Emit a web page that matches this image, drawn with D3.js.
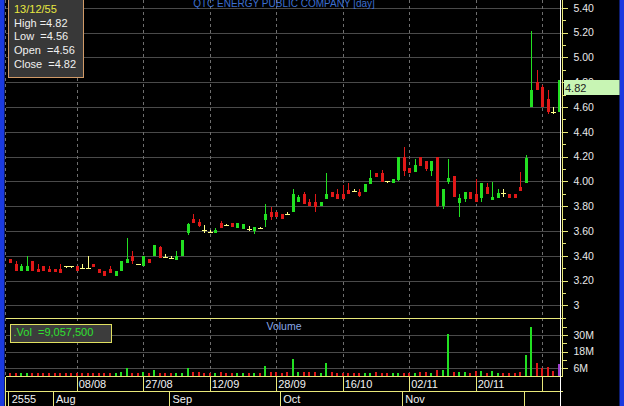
<!DOCTYPE html>
<html><head><meta charset="utf-8">
<script src="https://cdn.jsdelivr.net/npm/d3@7"></script>
<style>
html,body{margin:0;padding:0;background:#000;overflow:hidden}
svg{display:block}
text{font-family:"Liberation Sans",Arial,sans-serif}
</style>
</head><body>
<svg id="c" width="624" height="406"></svg>
<script>
const title = "QTC ENERGY PUBLIC COMPANY [day]";
const dates = ["20/07/55","23/07/55","24/07/55","25/07/55","26/07/55","27/07/55","30/07/55","31/07/55",
"01/08/55","03/08/55","06/08/55","07/08/55","08/08/55","09/08/55","10/08/55","14/08/55","15/08/55","16/08/55","17/08/55","20/08/55","21/08/55","22/08/55","23/08/55","24/08/55","27/08/55","28/08/55","29/08/55","30/08/55","31/08/55",
"03/09/55","04/09/55","05/09/55","06/09/55","07/09/55","10/09/55","11/09/55","12/09/55","13/09/55","14/09/55","17/09/55","18/09/55","19/09/55","20/09/55","21/09/55","24/09/55","25/09/55","26/09/55","27/09/55","28/09/55",
"01/10/55","02/10/55","03/10/55","04/10/55","05/10/55","08/10/55","09/10/55","10/10/55","11/10/55","12/10/55","15/10/55","16/10/55","17/10/55","18/10/55","19/10/55","22/10/55","24/10/55","25/10/55","26/10/55","29/10/55","30/10/55","31/10/55",
"01/11/55","02/11/55","05/11/55","06/11/55","07/11/55","08/11/55","09/11/55","12/11/55","13/11/55","14/11/55","15/11/55","16/11/55","19/11/55","20/11/55","21/11/55","22/11/55","23/11/55","26/11/55","27/11/55","28/11/55","29/11/55","30/11/55",
"03/12/55","04/12/55","06/12/55","07/12/55","11/12/55","12/12/55","13/12/55"];

const open = [3.37,3.33,3.28,3.28,3.36,3.29,3.32,3.29,3.29,3.29,
 3.32,3.32,3.32,3.30,3.30,3.33,3.29,3.28,3.29,3.24,
 3.28,3.34,3.40,3.33,3.32,3.37,3.40,3.47,3.39,3.385,
 3.365,3.40,3.58,3.70,3.67,3.61,3.595,3.58,3.66,3.645,
 3.665,3.62,3.615,3.615,3.60,3.62,3.69,3.755,3.75,3.74,
 3.74,3.755,3.835,3.90,3.835,3.835,3.80,3.86,3.91,3.90,
 3.90,3.93,3.92,3.915,3.915,3.98,4.07,4.064,4.00,3.985,
 4.01,4.20,4.105,4.078,4.20,4.16,4.08,4.20,3.80,3.995,
 4.04,3.822,3.86,3.917,3.90,3.863,3.957,3.85,3.863,3.903,
 3.90,3.90,3.957,3.984,4.60,4.80,4.76,4.66,4.56,4.56];
const high = [3.375,3.36,3.33,3.40,3.36,3.33,3.32,3.32,3.29,3.33,
 3.32,3.32,3.32,3.33,3.40,3.33,3.29,3.28,3.32,3.28,
 3.36,3.54,3.44,3.335,3.40,3.37,3.49,3.48,3.41,3.40,
 3.44,3.53,3.665,3.74,3.70,3.65,3.61,3.62,3.68,3.655,
 3.665,3.66,3.655,3.64,3.635,3.634,3.82,3.79,3.75,3.74,
 3.755,3.94,3.89,3.915,3.855,3.90,3.835,4.07,3.91,3.94,
 3.97,3.99,3.94,3.94,3.98,4.09,4.07,4.09,4.00,4.02,
 4.20,4.28,4.105,4.18,4.20,4.16,4.16,4.20,3.94,4.18,
 4.04,3.90,3.917,3.917,4.02,3.984,3.984,3.997,3.94,3.94,
 3.90,3.90,4.078,4.21,5.21,4.90,4.78,4.74,4.60,4.82];
const low = [3.34,3.28,3.28,3.28,3.28,3.27,3.28,3.27,3.27,3.26,
 3.30,3.30,3.28,3.30,3.30,3.31,3.26,3.24,3.26,3.24,
 3.28,3.34,3.33,3.33,3.32,3.34,3.40,3.38,3.39,3.385,
 3.365,3.40,3.565,3.66,3.635,3.585,3.595,3.58,3.62,3.645,
 3.635,3.62,3.615,3.60,3.575,3.62,3.635,3.69,3.71,3.70,
 3.74,3.755,3.83,3.815,3.80,3.75,3.80,3.86,3.875,3.86,
 3.86,3.90,3.92,3.875,3.915,3.98,4.035,3.997,3.985,3.985,
 4.00,4.046,4.065,4.078,4.12,4.086,4.04,3.79,3.78,3.98,
 3.876,3.715,3.836,3.86,3.836,3.836,3.90,3.85,3.863,3.876,
 3.863,3.863,3.925,3.984,4.60,4.74,4.60,4.54,4.54,4.56];
const close = [3.34,3.28,3.32,3.32,3.28,3.27,3.28,3.27,3.27,3.26,
 3.32,3.32,3.28,3.30,3.30,3.31,3.26,3.24,3.26,3.28,
 3.36,3.37,3.36,3.33,3.40,3.34,3.49,3.38,3.39,3.385,
 3.40,3.53,3.655,3.66,3.64,3.61,3.595,3.61,3.62,3.645,
 3.635,3.66,3.655,3.615,3.635,3.62,3.74,3.715,3.71,3.70,
 3.74,3.90,3.875,3.815,3.80,3.79,3.835,3.90,3.875,3.86,
 3.86,3.90,3.92,3.885,3.98,4.03,4.035,3.997,4.00,4.02,
 4.20,4.08,4.065,4.132,4.12,4.10,4.16,3.80,3.94,4.03,
 3.876,3.863,3.917,3.86,3.836,3.984,3.90,3.876,3.903,3.903,
 3.863,3.863,3.925,4.185,4.74,4.74,4.60,4.56,4.56,4.82];
const volume = [2600000,2600000,2500000,2800000,2600000,2400000,2600000,2300000,2500000,2600000,
 2300000,2500000,2600000,2400000,2700000,2500000,2600000,2400000,2500000,2700000,
 3500000,6200000,2600000,2400000,3600000,2600000,4800000,2700000,2500000,2600000,
 2500000,2700000,6200000,3300000,3000000,2500000,2400000,2600000,3200000,2500000,
 2600000,2400000,2600000,2300000,2500000,2600000,7600000,3500000,3400000,2600000,
 3000000,12700000,3100000,3400000,3000000,3600000,2700000,10000000,3000000,2600000,
 2500000,2600000,2400000,2600000,2500000,2800000,3100000,2700000,2600000,2500000,
 2800000,2600000,2400000,2600000,3000000,3100000,2800000,4500000,4600000,30700000,
 3300000,3200000,3400000,2500000,3800000,3900000,2800000,3800000,2700000,2500000,
 2400000,2400000,3300000,15500000,36000000,10000000,6000000,6800000,4200000,9057500];

const priceTicks = [3,3.2,3.4,3.6,3.8,4.0,4.2,4.4,4.6,4.8,5.0,5.2,5.4];
const priceTickLabels = ["3","3.20","3.40","3.60","3.80","4.00","4.20","4.40","4.60","4.80","5.00","5.20","5.40"];
const priceMinorTicks = [2.9,3.1,3.3,3.5,3.7,3.9,4.1,4.3,4.5,4.7,4.9,5.1,5.3];
const volumeTicks = [6e6,18e6,30e6];
const volumeTickLabels = ["6M","18M","30M"];
const volumeMinorTicks = [12e6,24e6,36e6];
const dateTickIdx = [12,24,36,48,60,72,84,96];
const yearLabel = "2555";
const monthNames = ["Jan","Feb","Mar","Apr","May","Jun","Jul","Aug","Sep","Oct","Nov","Dec"];

const svg = d3.select("#c");
const W = 624, H = 406;
const L = 5.5, R = 562.5, mainBottom = 318, volBottom = 376.5, monthTop = 391.5;
const YELLOW = "#e8e87a", GRID = "#4a4a4a", VGRID = "#6e6e6e";
const GREEN = "#22e022", RED = "#e01818", DOJI = "#ffff88";

const n = dates.length;
const x = d3.scalePoint().domain(d3.range(n)).range([10.2, 558.9]);
const y = d3.scaleLinear().domain([3, 5.4]).range([305.3, 7.7]);
const yv = d3.scaleLinear().domain([0, 30e6]).range([376.6, 334.9]);

svg.append("rect").attr("width", W).attr("height", H).attr("fill", "#000");
// blue side strips
svg.append("rect").attr("x", 0).attr("y", 0).attr("width", 4.5).attr("height", H).attr("fill", "#1a3ae0");
svg.append("rect").attr("x", 619.5).attr("y", 0).attr("width", 4.5).attr("height", H).attr("fill", "#1a3ae0");

const grid = svg.append("g").attr("shape-rendering", "crispEdges");
grid.selectAll(".hp").data(priceTicks).join("line")
  .attr("x1", L).attr("x2", R).attr("y1", d => Math.round(y(d)) + 0.5).attr("y2", d => Math.round(y(d)) + 0.5)
  .attr("stroke", GRID);
grid.selectAll(".hv").data(volumeTicks).join("line")
  .attr("x1", L).attr("x2", R).attr("y1", d => Math.round(yv(d)) + 0.5).attr("y2", d => Math.round(yv(d)) + 0.5)
  .attr("stroke", GRID);
grid.selectAll(".vg").data(dateTickIdx).join("line")
  .attr("x1", d => Math.round(x(d)) + 0.5).attr("x2", d => Math.round(x(d)) + 0.5)
  .attr("y1", 0).attr("y2", volBottom)
  .attr("stroke", VGRID).attr("stroke-dasharray", "3,3");
grid.append("line").attr("x1", L).attr("x2", L).attr("y1", 0).attr("y2", volBottom)
  .attr("stroke", VGRID).attr("stroke-dasharray", "3,3");

// title
svg.append("text").attr("x", 284).attr("y", 6.5).attr("text-anchor", "middle")
  .attr("font-size", 10).attr("fill", "#3d6fd0").text(title);

// candles
const data = d3.range(n).map(i => ({i, o: open[i], h: high[i], l: low[i], c: close[i], v: volume[i]}));
const colorOf = d => d.c > d.o ? GREEN : (d.c < d.o ? RED : DOJI);
const cg = svg.append("g").attr("shape-rendering", "crispEdges");
const cand = cg.selectAll("g").data(data).join("g");
cand.append("line")
  .attr("x1", d => Math.round(x(d.i)) + 0.5).attr("x2", d => Math.round(x(d.i)) + 0.5)
  .attr("y1", d => y(d.h)).attr("y2", d => y(d.l) + (d.h === d.l ? 1 : 0))
  .attr("stroke", colorOf);
cand.filter(d => d.o !== d.c).append("rect")
  .attr("x", d => Math.round(x(d.i)) - 1).attr("width", 3)
  .attr("y", d => y(Math.max(d.o, d.c)))
  .attr("height", d => Math.max(1, Math.abs(y(d.o) - y(d.c))))
  .attr("fill", colorOf);
cand.filter(d => d.o === d.c).append("rect")
  .attr("x", d => Math.round(x(d.i)) - 2).attr("width", 5)
  .attr("y", d => Math.round(y(d.c))).attr("height", 1)
  .attr("fill", DOJI);

// volume bars
const vg = svg.append("g").attr("shape-rendering", "crispEdges");
vg.selectAll("rect").data(data).join("rect")
  .attr("x", d => Math.round(x(d.i)) - 1).attr("width", 2)
  .attr("y", d => yv(d.v)).attr("height", d => yv(0) - yv(d.v))
  .attr("fill", d => d.i === n - 1 ? "#a040d0" : (d.c > d.o ? GREEN : RED));

// frame lines
const fr = svg.append("g").attr("shape-rendering", "crispEdges").attr("stroke", YELLOW);
fr.append("line").attr("x1", L).attr("x2", R).attr("y1", mainBottom + 0.5).attr("y2", mainBottom + 0.5);
fr.append("line").attr("x1", L).attr("x2", R).attr("y1", volBottom).attr("y2", volBottom);
fr.append("line").attr("x1", L).attr("x2", R).attr("y1", monthTop).attr("y2", monthTop);
fr.append("line").attr("x1", R).attr("x2", R).attr("y1", 0).attr("y2", volBottom);
fr.append("line").attr("x1", L).attr("x2", L).attr("y1", volBottom).attr("y2", H);

// date row
const lastX = x(n - 1);
const dateRow = svg.append("g");
dateRow.selectAll("line").data(dateTickIdx).join("line")
  .attr("shape-rendering", "crispEdges")
  .attr("x1", d => Math.round(x(d)) + 0.5).attr("x2", d => Math.round(x(d)) + 0.5)
  .attr("y1", volBottom).attr("y2", monthTop).attr("stroke", YELLOW);
dateRow.selectAll("text").data(dateTickIdx.filter(d => lastX - x(d) > 30)).join("text")
  .attr("x", d => x(d) + 2).attr("y", 388).attr("font-size", 11).attr("fill", "#f2f2f2")
  .text(d => dates[d].slice(0, 5));

// month row
const monthStarts = d3.range(n).filter(i => i === 0 || dates[i].slice(3, 5) !== dates[i - 1].slice(3, 5));
const monthRow = svg.append("g");
monthRow.selectAll("line").data(monthStarts).join("line")
  .attr("shape-rendering", "crispEdges")
  .attr("x1", d => Math.round(x(d)) - 1.5).attr("x2", d => Math.round(x(d)) - 1.5)
  .attr("y1", monthTop).attr("y2", H).attr("stroke", YELLOW);
monthRow.selectAll("text").data(monthStarts.filter(d => lastX - x(d) > 40)).join("text")
  .attr("x", d => x(d) + 1.5).attr("y", 403).attr("font-size", 11).attr("fill", "#f2f2f2")
  .text(d => d === 0 ? yearLabel : monthNames[+dates[d].slice(3, 5) - 1]);

// price axis
const pa = svg.append("g").attr("transform", `translate(${R},0)`)
  .call(d3.axisRight(y).tickValues(priceTicks).tickFormat((d, i) => priceTickLabels[i]).tickSize(5).tickPadding(6));
pa.select(".domain").remove();
pa.selectAll("line").attr("stroke", YELLOW).attr("shape-rendering", "crispEdges");
pa.selectAll("text").attr("fill", "#e8e8e8").attr("font-size", 10.5).attr("font-family", "Liberation Sans, Arial, sans-serif");
svg.append("g").attr("transform", `translate(${R},0)`)
  .selectAll("line").data(priceMinorTicks).join("line")
  .attr("shape-rendering", "crispEdges")
  .attr("x1", 0).attr("x2", 3).attr("y1", d => Math.round(y(d)) + 0.5).attr("y2", d => Math.round(y(d)) + 0.5)
  .attr("stroke", YELLOW);

// volume axis
const va = svg.append("g").attr("transform", `translate(${R},0)`)
  .call(d3.axisRight(yv).tickValues(volumeTicks).tickFormat((d, i) => volumeTickLabels[i]).tickSize(5).tickPadding(6));
va.select(".domain").remove();
va.selectAll("line").attr("stroke", YELLOW).attr("shape-rendering", "crispEdges");
va.selectAll("text").attr("fill", "#e8e8e8").attr("font-size", 10.5).attr("font-family", "Liberation Sans, Arial, sans-serif");
svg.append("g").attr("transform", `translate(${R},0)`)
  .selectAll("line").data(volumeMinorTicks).join("line")
  .attr("shape-rendering", "crispEdges")
  .attr("x1", 0).attr("x2", 4).attr("y1", d => Math.round(yv(d)) + 0.5).attr("y2", d => Math.round(yv(d)) + 0.5)
  .attr("stroke", YELLOW);

// last price tag
const last = data[n - 1];
svg.append("rect").attr("x", 564).attr("y", Math.round(y(last.c))).attr("width", 55.5).attr("height", 15)
  .attr("fill", "#c8f5b4");
svg.append("text").attr("x", 565).attr("y", Math.round(y(last.c)) + 11.5).attr("font-size", 11)
  .attr("fill", "#222").text(last.c.toFixed(2));

// crosshair at selected bar
svg.append("line").attr("shape-rendering", "crispEdges")
  .attr("x1", Math.round(lastX) + 1.5).attr("x2", Math.round(lastX) + 1.5)
  .attr("y1", 0).attr("y2", H).attr("stroke", "#ffffff");

// info box
svg.append("rect").attr("x", 8.5).attr("y", -1).attr("width", 75).attr("height", 78)
  .attr("fill", "#383838").attr("stroke", "#d09a68").attr("shape-rendering", "crispEdges");
const info = [
  {t: last.i === n - 1 ? dates[n - 1] : "", c: "#e8e840"},
  {t: "High =" + last.h.toFixed(2), c: "#f0f0f0"},
  {t: "Low  =" + last.l.toFixed(2), c: "#f0f0f0"},
  {t: "Open  =" + last.o.toFixed(2), c: "#f0f0f0"},
  {t: "Close  =" + last.c.toFixed(2), c: "#f0f0f0"}
];
svg.append("g").selectAll("text").data(info).join("text")
  .attr("x", 14).attr("y", (d, i) => 12.9 + i * 13.7).attr("font-size", 11)
  .attr("fill", d => d.c).style("white-space", "pre").text(d => d.t);

// volume box
svg.append("rect").attr("x", 10.5).attr("y", 324.5).attr("width", 101).attr("height", 18)
  .attr("fill", "#3c3c3c").attr("stroke", "#e0e060").attr("shape-rendering", "crispEdges");
svg.append("text").attr("x", 13.5).attr("y", 335.5).attr("font-size", 11).attr("fill", "#30e030")
  .style("white-space", "pre").text(".Vol  =" + d3.format(",")(last.v));
svg.append("text").attr("x", 284).attr("y", 330).attr("text-anchor", "middle").attr("font-size", 10.5)
  .attr("fill", "#8aa8e8").text("Volume");
</script>
</body></html>
